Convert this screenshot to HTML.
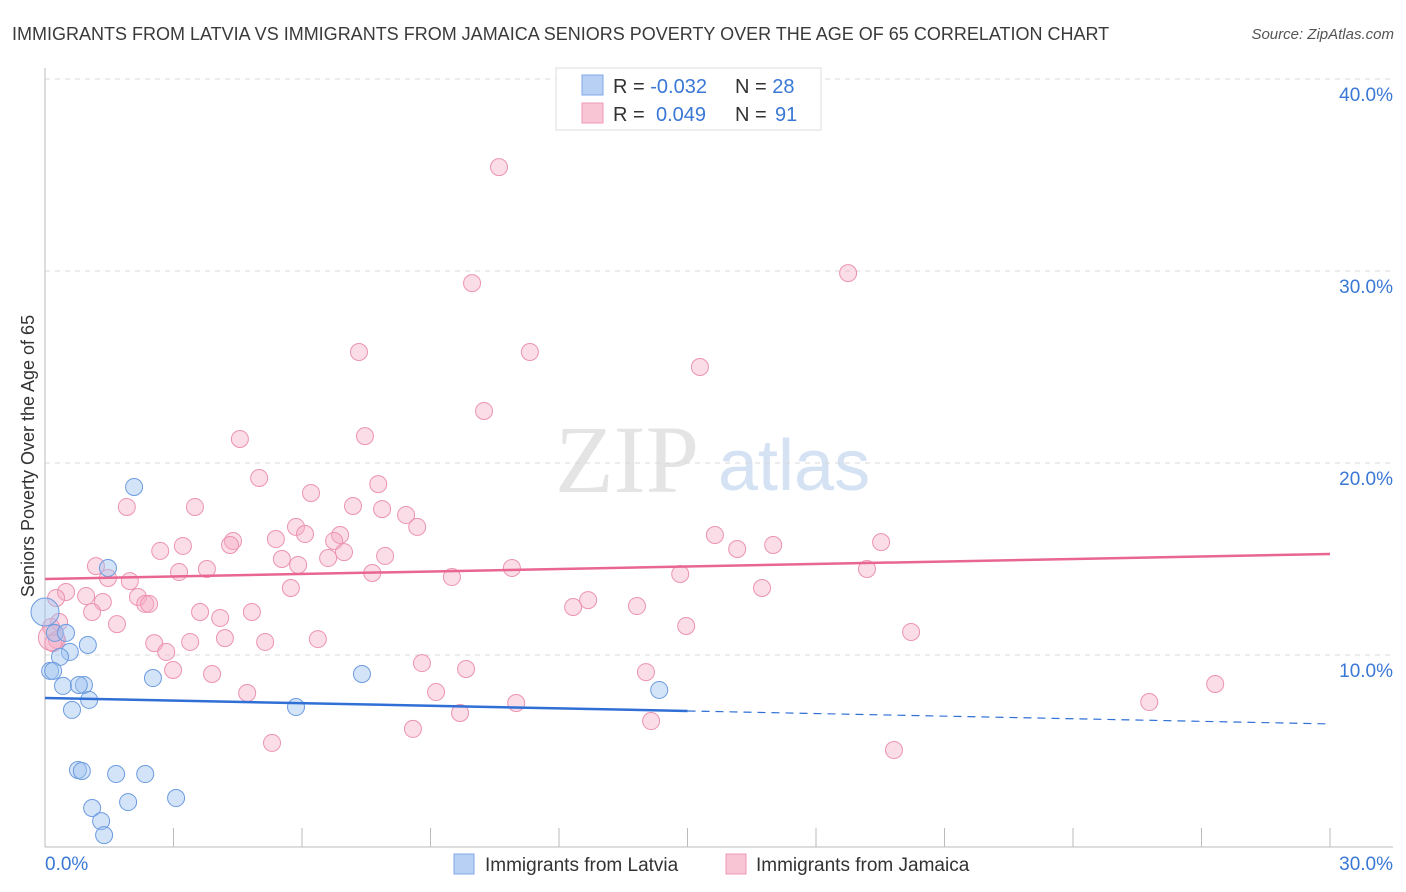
<!DOCTYPE html>
<html><head><meta charset="utf-8"><style>
body{margin:0;background:#fff;font-family:"Liberation Sans",sans-serif;}
#wrap{position:relative;width:1406px;height:892px;overflow:hidden}
</style></head><body>
<div id="wrap">
<svg id="svg" width="1406" height="892" xmlns="http://www.w3.org/2000/svg">
<text x="12" y="40" font-size="18" fill="#3a3a3a">IMMIGRANTS FROM LATVIA VS IMMIGRANTS FROM JAMAICA SENIORS POVERTY OVER THE AGE OF 65 CORRELATION CHART</text>
<text x="1394" y="39" font-size="15" fill="#555" font-style="italic" text-anchor="end">Source: ZipAtlas.com</text>
<text x="34" y="456" font-size="18" fill="#333" text-anchor="middle" transform="rotate(-90 34 456)">Seniors Poverty Over the Age of 65</text>
<text x="555" y="492" font-size="96" fill="#e4e4e4" font-family="Liberation Serif,serif">ZIP</text>
<text x="718" y="490" font-size="72" fill="#d4e2f4">atlas</text>
<g id="grid"></g><g id="axes"></g><g id="pts"></g><g id="trend"></g>
<g>
<rect x="556" y="68" width="265" height="62" fill="#fff" stroke="#ddd"/>
<rect x="582" y="75" width="21" height="20" fill="#b7d0f4" stroke="#7fa8e6"/>
<rect x="582" y="103" width="21" height="20" fill="#f8c5d5" stroke="#ee9ab4"/>
<text x="613" y="93" font-size="20" fill="#333">R = <tspan fill="#3a78d6">-0.032</tspan><tspan x="735">N = </tspan><tspan fill="#3a78d6">28</tspan></text>
<text x="613" y="121" font-size="20" fill="#333">R = <tspan x="656" fill="#3a78d6">0.049</tspan><tspan x="735">N = </tspan><tspan x="775" fill="#3a78d6">91</tspan></text>
</g>
<g>
<rect x="454" y="854" width="20" height="20" fill="#b7d0f4" stroke="#7fa8e6"/>
<text x="485" y="871" font-size="19" fill="#333">Immigrants from Latvia</text>
<rect x="726" y="854" width="20" height="20" fill="#f8c5d5" stroke="#ee9ab4"/>
<text x="756" y="871" font-size="19" fill="#333">Immigrants from Jamaica</text>
</g>
</svg></div>
<script>
const yTicks=[10,20,30,40];
const yTickLabels=["10.0%","20.0%","30.0%","40.0%"];
const xTickLabels=["0.0%","30.0%"];
const latviaX=[2.08,1.47,0,0.23,0.49,0.58,0.35,1.00,0.12,0.19,0.42,0.91,0.79,1.03,0.63,2.52,7.40,5.86,14.34,0.77,0.86,1.66,2.34,1.94,3.06,1.10,1.31,1.38];
const latviaY=[18.75,14.53,12.24,11.15,11.15,10.16,9.90,10.52,9.17,9.17,8.39,8.44,8.44,7.66,7.14,8.80,9.01,7.29,8.18,4.01,3.96,3.80,3.80,2.34,2.55,2.03,1.35,0.62];
const jamaicaX=[10.60,9.97,18.75,7.33,11.32,15.29,10.25,4.55,7.47,5.00,1.91,3.50,6.21,7.78,2.69,3.22,4.39,4.32,5.39,5.86,6.07,7.19,7.87,8.43,8.69,6.89,6.75,6.98,7.94,5.53,5.91,6.61,3.78,3.13,1.19,1.47,1.98,7.64,9.50,10.90,14.83,15.64,16.16,17.00,19.52,19.19,0.49,0.26,0.96,1.35,2.17,1.10,2.34,2.43,3.62,4.09,4.83,5.74,12.33,12.68,13.82,16.74,1.68,0.14,0.33,0.28,0.19,2.55,2.83,3.39,4.20,5.14,6.37,14.97,20.22,2.99,3.90,8.80,9.83,14.03,4.72,9.13,11.00,9.69,14.15,8.59,5.30,19.82,25.78,27.32,0.15];
const jamaicaY=[35.41,29.37,29.89,25.78,25.78,25.00,22.71,21.25,21.40,19.22,17.71,17.71,18.44,18.90,15.42,15.68,15.94,15.73,16.04,16.67,16.30,17.76,17.60,17.29,16.67,16.25,15.94,15.36,15.16,15.00,14.69,15.05,14.48,14.32,14.63,14.01,13.85,14.27,14.06,14.53,14.22,16.25,15.52,15.73,15.88,14.48,13.28,12.97,13.07,12.76,13.02,12.24,12.66,12.66,12.24,11.93,12.24,13.49,12.50,12.86,12.55,13.49,11.61,11.46,11.72,10.78,10.62,10.62,10.16,10.68,10.88,10.68,10.83,11.51,11.20,9.22,9.01,9.58,9.27,9.11,8.02,8.07,7.50,6.98,6.56,6.15,5.42,5.05,7.55,8.49,10.9];
const latviaTrend=[7.76,6.41];
const jamaicaTrend=[13.96,15.26];
const NS="http://www.w3.org/2000/svg";
const X0=45,X1=1330,Y0=847,PXY=19.2;
function sx(v){return X0+(X1-X0)*v/30;}
function sy(v){return Y0-v*PXY;}
function mk(tag,attrs,parent){const e=document.createElementNS(NS,tag);for(const k in attrs)e.setAttribute(k,attrs[k]);document.getElementById(parent).appendChild(e);return e;}
yTicks.forEach((t,i)=>{
 const l=mk('line',{x1:45,x2:1393,y1:sy(t),y2:sy(t),stroke:'#d8d8d8','stroke-dasharray':'5,5'},'grid');
 
 
 const tx=mk('text',{x:1393,y:sy(t)+22,'font-size':19,fill:'#3a78d6','text-anchor':'end'},'grid');
 tx.textContent=yTickLabels[i];
 
 
});
let a=mk('line',{x1:45,x2:45,y1:68,y2:847,stroke:'#bbb'},'axes');


a=mk('line',{x1:45,x2:1393,y1:847,y2:847,stroke:'#bbb'},'axes');


for(let i=1;i<=10;i++){const t=mk('line',{x1:sx(i*3),x2:sx(i*3),y1:828,y2:847,stroke:'#bbb'},'axes');
 
 }
[[0,'start',45],[30,'end',1393]].forEach((d,i)=>{const t=mk('text',{x:d[2],y:870,'font-size':19,fill:'#3a78d6','text-anchor':d[1]},'axes');t.textContent=xTickLabels[i];
 
 });
jamaicaX.forEach((v,i)=>{const big=i===jamaicaX.length-1;const c=mk('circle',{cx:sx(v),cy:sy(jamaicaY[i]),r:big?13:8.5,fill:'rgba(246,170,196,0.4)',stroke:'#ec93b1','stroke-width':1},'pts');
 
 });
latviaX.forEach((v,i)=>{const c=mk('circle',{cx:sx(v),cy:sy(latviaY[i]),r:i===2?14:8.5,fill:'rgba(160,196,240,0.45)',stroke:'#6c9be0','stroke-width':1},'pts');
 
 });
function ly(tr,x){return tr[0]+(tr[1]-tr[0])*x/30;}
let t=mk('line',{x1:sx(0),y1:sy(ly(jamaicaTrend,0)),x2:sx(30),y2:sy(ly(jamaicaTrend,30)),stroke:'#e8668f','stroke-width':2.5},'trend');


t=mk('line',{x1:sx(0),y1:sy(ly(latviaTrend,0)),x2:sx(15),y2:sy(ly(latviaTrend,15)),stroke:'#2f6fd6','stroke-width':2.5},'trend');


t=mk('line',{x1:sx(15),y1:sy(ly(latviaTrend,15)),x2:sx(30),y2:sy(ly(latviaTrend,30)),stroke:'#2f6fd6','stroke-width':1.2,'stroke-dasharray':'8,6'},'trend');


</script>
</body></html>
